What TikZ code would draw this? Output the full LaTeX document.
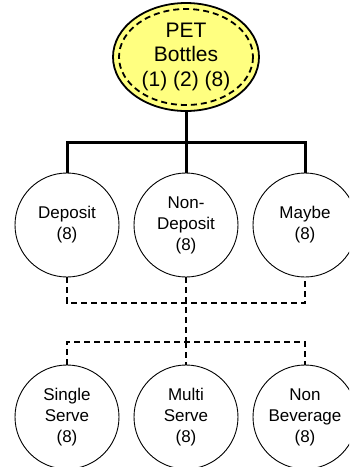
\documentclass[tikz,border=0pt]{standalone}
\usepackage{fontspec}
\setmainfont{Liberation Sans}
\usetikzlibrary{shapes.geometric}
\definecolor{petyellow}{RGB}{255,255,128}
\newcommand\stacktxt[2]{\raisebox{#1}{\begin{tabular}{@{}c@{}}#2\end{tabular}}}
\tikzset{
  catnode/.style={circle,draw=black,line width=0.9pt,minimum size=104pt,inner sep=0pt,
    font=\fontsize{17}{21}\selectfont},
  solidlink/.style={line width=3pt},
  dashlink/.style={line width=2pt,dash pattern=on 6pt off 4pt},
}
\begin{document}
\begin{tikzpicture}[x=1pt,y=-1pt]
\useasboundingbox (0,0) rectangle (349,467);
\clip (0,0) rectangle (349,467);
\node[ellipse,draw=black,line width=1.8pt,fill=petyellow,minimum width=146pt,minimum height=108pt,
  inner sep=0pt,font=\fontsize{21}{24.5}\selectfont] (pet) at (186,57) {\stacktxt{-2pt}{PET\\Bottles\\(1) (2) (8)}};
\draw[line width=1.8pt,dash pattern=on 6pt off 4pt] (pet.center) ellipse (67 and 48);
\node[catnode] (d1) at (67,225) {\stacktxt{-4pt}{Deposit\\(8)}};
\node[catnode] (d2) at (186,225) {\stacktxt{-6pt}{Non-\\Deposit\\(8)}};
\node[catnode] (d3) at (305,225) {\stacktxt{-4pt}{Maybe\\(8)}};
\node[catnode] (b1) at (67,417) {\stacktxt{-6pt}{Single\\Serve\\(8)}};
\node[catnode] (b2) at (186,417) {\stacktxt{-6pt}{Multi\\Serve\\(8)}};
\node[catnode] (b3) at (305,417) {\stacktxt{-6pt}{Non\\Beverage\\(8)}};
\coordinate (h1) at (186,142);
\coordinate (h2) at (186,303);
\coordinate (h3) at (186,342);
\draw[solidlink] (pet.south) -- (d2.north);
\draw[solidlink] (d1.north) |- (h1) -| (d3.north);
\draw[dashlink] (d1.south) |- (h2) -| (d3.south);
\draw[dashlink] (d2.south) -- (h2) -- (h3);
\draw[dashlink] (b1.north) |- (h3) -| (b3.north);
\draw[dashlink] (h3) -- (b2.north);
\end{tikzpicture}
\end{document}
